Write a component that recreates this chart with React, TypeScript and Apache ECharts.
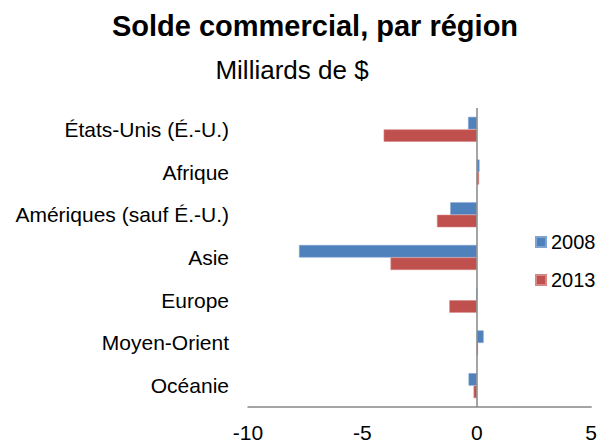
import React, { useEffect, useRef } from "react";
import * as echarts from "echarts";

const categories = [
  "États-Unis (É.-U.)",
  "Afrique",
  "Amériques (sauf É.-U.)",
  "Asie",
  "Europe",
  "Moyen-Orient",
  "Océanie",
];
const values2008 = [-0.38, 0.12, -1.16, -7.77, 0.0, 0.3, -0.36];
const values2013 = [-4.07, 0.1, -1.74, -3.77, -1.2, 0.05, -0.14];
const seriesNames = ["2008", "2013"];
const xTicks = [-10, 5, 5];

const FONT = "'Liberation Sans', Arial, sans-serif";

export default function App() {
  const ref = useRef<HTMLDivElement>(null);
  useEffect(() => {
    if (!ref.current) return;
    const chart = echarts.init(ref.current, null, { renderer: "svg" });
    chart.setOption({
      animation: false,
      backgroundColor: "#ffffff",
      textStyle: { fontFamily: FONT },
      title: [
        {
          text: "Solde commercial, par région",
          left: 315,
          top: 11,
          padding: 0,
          textAlign: "center",
          textStyle: { fontFamily: FONT, fontSize: 29, fontWeight: "bold", color: "#000" },
        },
        {
          text: "Milliards de $",
          left: 292,
          top: 57,
          padding: 0,
          textAlign: "center",
          textStyle: { fontFamily: FONT, fontSize: 26, fontWeight: "normal", color: "#000" },
        },
      ],
      legend: {
        orient: "vertical",
        left: 535,
        top: 232,
        padding: 0,
        itemWidth: 10,
        itemHeight: 10,
        itemGap: 18,
        icon: "rect",
        textStyle: { fontFamily: FONT, fontSize: 20, color: "#000" },
        data: seriesNames,
      },
      grid: { left: 248, right: 6, top: 108, bottom: 34, containLabel: false },
      xAxis: {
        type: "value",
        min: xTicks[0],
        max: xTicks[1],
        interval: xTicks[2],
        axisLine: { show: true, onZero: false, lineStyle: { color: "#878787", width: 1.5 } },
        axisTick: { show: false },
        splitLine: { show: false },
        axisLabel: { fontFamily: FONT, fontSize: 21, color: "#000", margin: 15 },
      },
      yAxis: {
        type: "category",
        inverse: true,
        data: categories,
        axisLine: { show: false },
        axisTick: { show: false },
        axisLabel: { fontFamily: FONT, fontSize: 21, color: "#000", margin: 19 },
      },
      series: [
        {
          name: seriesNames[0],
          type: "bar",
          data: values2008,
          barWidth: 12.5,
          barGap: "0%",
          itemStyle: { color: "#4F81BD", borderColor: "#7FA3D0", borderWidth: 0.6 },
          markLine: {
            silent: true,
            symbol: "none",
            label: { show: false },
            lineStyle: { color: "#878787", width: 1.5, type: "solid" },
            data: [{ xAxis: 0 }],
          },
        },
        {
          name: seriesNames[1],
          type: "bar",
          data: values2013,
          barWidth: 12.5,
          barGap: "0%",
          itemStyle: { color: "#C0504D", borderColor: "#D58785", borderWidth: 0.6 },
        },
      ],
    });
    return () => chart.dispose();
  }, []);
  return (
    <div
      ref={ref}
      style={{ position: "fixed", left: 0, top: 0, width: 600, height: 443 }}
    />
  );
}
